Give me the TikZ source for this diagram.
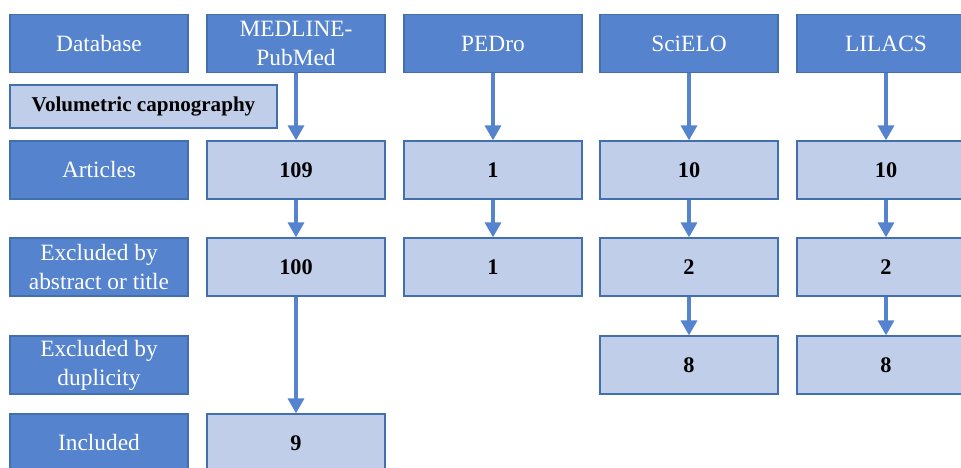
\documentclass[tikz,border=0pt]{standalone}
\usepackage{fontspec}
\setmainfont{Liberation Serif}
\usetikzlibrary{calc, arrows.meta, positioning}

\definecolor{boxDark}{RGB}{85,131,206}
\definecolor{boxLight}{RGB}{193,206,233}
\definecolor{boxLine}{RGB}{66,112,172}

\tikzset{
    darkbox/.style={draw=boxLine, fill=boxDark, text=white, line width=0.7pt,
        minimum width=3.56cm, minimum height=1.16cm, inner sep=1pt, align=center,
        font=\fontsize{13.3}{16.5}\selectfont},
    lightbox/.style={draw=boxLine, fill=boxLight, line width=0.7pt,
        minimum width=3.56cm, minimum height=1.16cm, inner sep=1pt,
        font=\fontsize{12.7}{15}\selectfont\bfseries},
    flow/.style={draw=boxDark, line width=2.8pt, -{Triangle[width=9pt,length=8.5pt]}}
}

\begin{document}
\begin{tikzpicture}
        \useasboundingbox (0,0) rectangle (19.22,-9.36);
        \clip (0,0) rectangle (19.22,-9.36);

        % rows
        \coordinate (rHead) at (0,-0.87);
        \coordinate (rArt) at (0,-3.40);
        \coordinate (rAbs) at (0,-5.34);
        \coordinate (rDup) at (0,-7.30);
        \coordinate (rInc) at (0,-8.86);

        % left column
        \node[darkbox] (lDatabase) at (1.98,-0.87) {Database};
        \node[lightbox, minimum width=5.34cm, minimum height=0.86cm,
            font=\fontsize{12}{14}\selectfont\bfseries] (lVolumetric) at (2.87,-2.13) {Volumetric capnography};
        \node[darkbox] (lArticles) at (lDatabase |- rArt) {Articles};
        \node[darkbox] (lAbstract) at (lDatabase |- rAbs) {Excluded by\\abstract or title};
        \node[darkbox] (lDuplicity) at (lDatabase |- rDup) {Excluded by\\duplicity};
        \node[darkbox] (lIncluded) at (lDatabase |- rInc) {Included};

        % databases
        \node[darkbox] (nMedHead) at (5.92,-0.87) {MEDLINE-\\PubMed};
        \node[darkbox] (nPedHead) at (9.86,-0.87) {PEDro};
        \node[darkbox] (nSciHead) at (13.78,-0.87) {SciELO};
        \node[darkbox] (nLilHead) at (17.72,-0.87) {LILACS};

        \foreach \col/\row/\val in
        {Med/Art/109, Med/Abs/100, Med/Inc/9,
            Ped/Art/1, Ped/Abs/1,
            Sci/Art/10, Sci/Abs/2, Sci/Dup/8,
            Lil/Art/10, Lil/Abs/2, Lil/Dup/8}
        {
            \node[lightbox] (n\col\row) at (n\col Head |- r\row) {\val};
        };

        \foreach \a/\b in
        {nMedHead/nMedArt, nMedArt/nMedAbs, nMedAbs/nMedInc,
            nPedHead/nPedArt, nPedArt/nPedAbs,
            nSciHead/nSciArt, nSciArt/nSciAbs, nSciAbs/nSciDup,
            nLilHead/nLilArt, nLilArt/nLilAbs, nLilAbs/nLilDup}
        {
            \draw[flow] (\a) -- (\b);
        };

\end{tikzpicture}
\end{document}
